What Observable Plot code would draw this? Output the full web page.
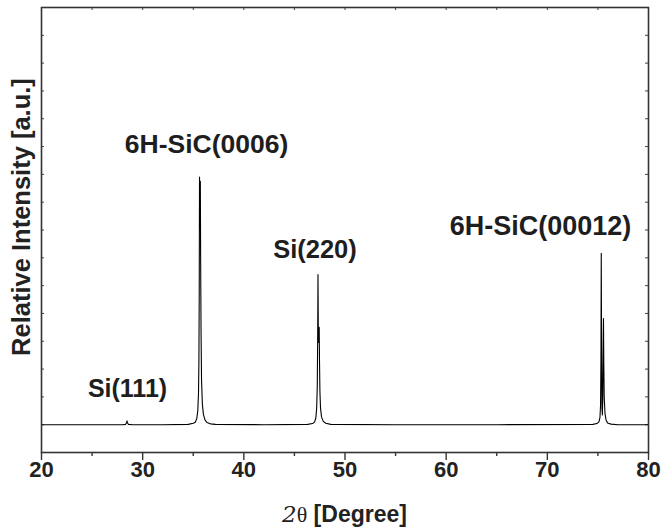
<!DOCTYPE html>
<html><head><meta charset="utf-8">
<script src="https://cdn.jsdelivr.net/npm/d3@7"></script>
<script src="https://cdn.jsdelivr.net/npm/@observablehq/plot@0.6"></script>
<style>body{margin:0;background:#fff;} #chart{width:663px;height:527px;}</style>
</head><body><div id="chart"></div>
<script>
// XRD pattern: 2theta (degrees) and relative intensity (a.u.)
const twoTheta = [
  20, 24, 28.0, 28.3, 28.4, 28.45, 28.5, 28.6, 29.0, 32, 34.5,
  35.0, 35.2, 35.35, 35.45, 35.52, 35.56, 35.59, 35.62, 35.66, 35.70, 35.73, 35.77, 35.82, 35.9, 36.0, 36.15, 36.35, 36.7, 37.2,
  42, 46.3, 46.8, 47.0, 47.12, 47.2, 47.26, 47.3, 47.33, 47.36, 47.39, 47.42, 47.45, 47.48, 47.52, 47.58, 47.68, 47.85, 48.1, 48.6,
  55, 65, 74.5, 74.9, 75.1, 75.2, 75.26, 75.3, 75.33, 75.36, 75.4, 75.44, 75.48, 75.52, 75.55, 75.58, 75.62, 75.7, 75.8, 75.95, 76.3, 77, 80
];
const intensity = [
  100, 100, 100, 101, 106, 114, 106, 101, 100, 100, 101,
  105, 109, 122, 150, 215, 330, 560, 990, 845, 975, 700, 440, 260, 175, 138, 118, 108, 103, 101,
  100, 101, 104, 110, 125, 160, 240, 420, 640, 440, 396, 420, 450, 330, 220, 160, 128, 112, 105, 101,
  100, 100, 101, 104, 110, 125, 170, 330, 716, 380, 160, 135, 200, 400, 482, 330, 200, 140, 118, 106, 102, 100, 100
];

const peakLabels = ["Si(111)", "6H-SiC(0006)", "Si(220)", "6H-SiC(00012)"];
const labelX = [28.5, 36.31, 47.03, 69.32];
const labelY = [227, 1106, 727, 813];
const labelSize = [25, 26.5, 25.5, 27];

const xMajorTicks = [20, 30, 40, 50, 60, 70, 80];
const xMinorTicks = [25, 35, 45, 55, 65, 75];
const xTopTicks = [25, 30, 35, 40, 45, 50, 55, 60, 65, 70, 75];
const yTicks = [100, 200, 300, 400, 500, 600, 700, 800, 900, 1000, 1100, 1200, 1300, 1400, 1500];

const xLabelParts = ["2", "θ", " [Degree]"];
const yLabel = "Relative Intensity [a.u.]";

const W = 663, H = 527, mL = 41, mR = 15, mT = 7, mB = 75;
const fw = W - mL - mR, fh = H - mT - mB;
const sans = "'Liberation Sans', Arial, Helvetica, sans-serif";

const data = twoTheta.map((x, i) => ({x, y: intensity[i]}));

const chart = Plot.plot({
  width: W, height: H,
  marginLeft: mL, marginRight: mR, marginTop: mT, marginBottom: mB,
  style: {fontFamily: sans, background: "#fff", color: "#222", overflow: "visible"},
  x: {domain: [20, 80]},
  y: {domain: [0, 1600], axis: null},
  marks: [
    Plot.axisX(xMajorTicks, {anchor: "bottom", tickSize: 8, tickPadding: 1, fontSize: 22, fontWeight: "bold", label: null, strokeWidth: 1.4, stroke: "#333", tickFormat: d => String(d)}),
    Plot.axisX(xMinorTicks, {anchor: "bottom", tickSize: 4, text: null, label: null, strokeWidth: 1.4, stroke: "#333"}),
    Plot.tickX(xTopTicks, {x: d => d, insetBottom: fh - 3, stroke: "#444", strokeWidth: 1}),
    Plot.tickY(yTicks, {y: d => d, insetRight: fw - 3, stroke: "#444", strokeWidth: 1}),
    Plot.tickY(yTicks, {y: d => d, insetLeft: fw - 3, stroke: "#444", strokeWidth: 1}),
    Plot.line(data, {x: "x", y: "y", stroke: "#000", strokeWidth: 1.1}),
    Plot.text(peakLabels, {x: (d, i) => labelX[i], y: (d, i) => labelY[i], text: d => d, fontSize: (d, i) => labelSize[i], fontWeight: "bold", lineAnchor: "middle", fill: "#1e1e1e"}),
    Plot.frame({stroke: "#333", strokeWidth: 1.6})
  ]
});

const svg = d3.select(chart);
// x axis title with mixed styles
const xt = svg.append("text")
  .attr("x", mL + fw / 2).attr("y", 522)
  .attr("text-anchor", "middle").attr("fill", "#222");
xt.append("tspan").text(xLabelParts[0]).attr("font-family", "'DejaVu Serif', serif").attr("font-style", "italic").attr("font-size", 23);
xt.append("tspan").text(xLabelParts[1]).attr("font-family", "'Liberation Serif', serif").attr("font-size", 22);
xt.append("tspan").text(xLabelParts[2]).attr("font-family", sans).attr("font-weight", "bold").attr("font-size", 23);
// y axis title
svg.append("text")
  .attr("transform", "translate(30,217) rotate(-90)")
  .attr("text-anchor", "middle").attr("fill", "#222")
  .attr("font-family", sans).attr("font-weight", "bold").attr("font-size", 25.5)
  .text(yLabel);

document.getElementById("chart").appendChild(chart);
</script>
</body></html>
